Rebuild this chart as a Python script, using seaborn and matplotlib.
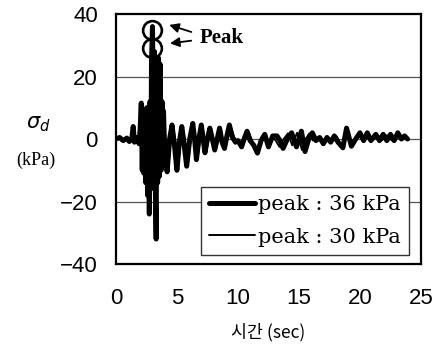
import numpy as np
import pandas as pd
import matplotlib
matplotlib.use("Agg")
import matplotlib.pyplot as plt
import seaborn as sns

# ---------------- data ----------------
time_a = [0.0, 0.3, 0.6, 0.9, 1.1, 1.3, 1.42, 1.52, 1.7, 1.9, 2.0, 2.08, 2.16, 2.24,
          2.3, 2.38, 2.45, 2.52, 2.6, 2.67, 2.74, 2.8, 2.86, 2.92, 3.0, 3.06, 3.1,
          3.16, 3.22, 3.3, 3.36, 3.42, 3.48, 3.55, 3.62, 3.7, 3.78, 3.84, 3.9, 4.0,
          4.2, 4.4, 4.6, 4.8, 5.0, 5.2, 5.4, 5.6, 5.8, 6.05, 6.3, 6.45, 6.6, 6.8,
          7.0, 7.15, 7.3, 7.5, 7.7, 7.9, 8.1, 8.3, 8.5, 8.7, 8.9, 9.1, 9.3, 9.55,
          9.8, 10.0, 10.3, 10.55, 10.75, 11.0, 11.3, 11.6, 11.9, 12.2, 12.5, 12.85,
          13.2, 13.45, 13.7, 14.05, 14.4, 14.8, 15.2, 15.5, 15.8, 16.1, 16.4, 16.7,
          17.0, 17.3, 17.6, 17.9, 18.2, 18.6, 18.9, 19.3, 19.65, 20.0, 20.3, 20.6,
          20.9, 21.3, 21.6, 21.9, 22.2, 22.5, 22.8, 23.1, 23.4, 23.65, 23.9]
sigma_a = [0.0, 0.5, -0.5, 0.3, -0.8, 0.0, 4.0, -1.0, 0.5, -1.5, 4.0, 11.5, -10.0, 9.0,
           -11.0, 8.0, -14.0, 10.0, -18.0, 9.0, -24.0, 12.0, -16.0, 25.0, 36.0, 10.0, -13.0,
           28.0, -12.0, -32.0, 25.0, -14.0, 26.0, -12.0, 24.0, -10.0, 12.0, -8.0, 9.0, -4.0,
           -10.5, 0.0, 4.5, -2.0, -10.0, -1.0, 4.0, -2.0, -8.7, 0.0, 5.0, 0.0, -6.6, 0.0,
           4.5, 0.0, -4.4, 0.0, 3.5, 0.0, -3.5, 0.0, 3.5, -1.0, -3.0, 1.0, 4.5, 0.5,
           -1.0, -0.5, -2.5, 0.5, 2.5, -0.5, -2.0, -4.5, -0.5, 1.5, -2.5, 1.0,
           1.0, -0.5, -3.0, 0.0, 2.0, -2.5, 2.5, -4.0, 0.0, 2.0, -0.5, 0.5,
           -1.5, 0.5, -1.0, 1.0, -1.0, -2.8, 3.5, -2.3, 0.0, 2.0, -0.5, 2.0,
           -0.5, 1.5, -0.5, 1.5, -0.5, 1.5, -0.5, 2.0, 0.0, 1.0, 0.0]

time_b = [0.0, 0.35, 0.65, 0.95, 1.15, 1.35, 1.45, 1.55, 1.75, 1.95, 2.04, 2.12, 2.2,
          2.27, 2.34, 2.41, 2.48, 2.56, 2.63, 2.7, 2.77, 2.83, 2.89, 2.96, 3.02,
          3.08, 3.13, 3.19, 3.26, 3.33, 3.39, 3.45, 3.52, 3.59, 3.66, 3.74, 3.81,
          3.88, 3.96, 4.1, 4.3, 4.5, 4.7, 4.9, 5.1, 5.3, 5.5, 5.7, 5.9, 6.15, 6.35,
          6.55, 6.7, 6.9, 7.1, 7.25, 7.4, 7.6, 7.8, 8.0, 8.2, 8.4, 8.6, 8.8, 9.0,
          9.2, 9.4, 9.7, 10.0, 10.3, 10.6, 10.9, 11.2, 11.5, 11.8, 12.1, 12.4,
          12.8, 13.1, 13.4, 13.75, 14.1, 14.45, 14.85, 15.25, 15.55, 15.85, 16.15,
          16.5, 16.9, 17.3, 17.7, 18.1, 18.5, 18.85, 19.25, 19.6, 20.0, 20.35,
          20.65, 21.0, 21.4, 21.8, 22.2, 22.6, 23.0, 23.4, 23.8]
sigma_b = [0.0, 0.4, -0.6, 0.4, -0.5, 0.5, 3.0, -0.8, 0.6, -1.0, 3.0, 9.5, -8.0,
           7.5, -10.0, 7.0, -12.0, 8.0, -15.0, 7.0, -21.0, 10.0, -14.0, 22.0, 30.0,
           8.0, -11.0, 24.0, -10.0, -28.0, 22.0, -12.0, 22.0, -10.0, 20.0, -8.0, 10.0,
           -7.0, 7.0, -3.0, -9.5, 0.0, 4.0, -1.5, -9.0, -0.5, 3.5, -1.5, -8.0, 0.0, 4.5,
           0.0, -6.0, 0.0, 4.0, 0.0, -4.0, 0.0, 3.0, 0.0, -3.0, 0.0, 3.0, -1.0, -2.5,
           1.0, 4.0, 0.5, -1.0, -2.0, 0.5, 2.0, -1.0, -4.0, -0.5, 1.5, -2.0,
           1.0, -0.5, -2.5, 0.0, 1.8, -2.0, 2.0, -3.5, 0.0, 1.8, -0.5,
           0.5, -1.0, 0.5, -0.8, 0.8, -2.5, 3.0, -2.0, 0.0, 1.8, -0.5,
           1.8, -0.4, 1.2, -0.4, 1.2, -0.4, 1.5, 0.0, 0.5]

series_labels = ["peak : 36 kPa", "peak : 30 kPa"]
y_ticks = [-40, -20, 0, 20, 40]
y_tick_labels = ["\u221240", "\u221220", "0", "20", "40"]
x_ticks = [0, 5, 10, 15, 20, 25]

# ---------------- figure ----------------
sns.set_style("white")
plt.rcParams['font.family'] = ['Liberation Sans', 'DejaVu Sans']
plt.rcParams['text.color'] = 'black'
plt.rcParams['xtick.color'] = 'black'
plt.rcParams['ytick.color'] = 'black'

fig = plt.figure(figsize=(4.34, 3.52), dpi=100)
ax = fig.add_axes([0.267, 0.25, 0.703, 0.71])

df_a = pd.DataFrame({"t": time_a, "s": sigma_a})
df_b = pd.DataFrame({"t": time_b, "s": sigma_b})

for yv in [-20, 0, 20]:
    ax.axhline(yv, color="#555555", lw=0.9, zorder=0)

sns.lineplot(data=df_b, x="t", y="s", ax=ax, color="black", lw=1.4,
             sort=False, estimator=None, label=series_labels[1], zorder=3)
sns.lineplot(data=df_a, x="t", y="s", ax=ax, color="black", lw=3.6,
             sort=False, estimator=None, label=series_labels[0], zorder=2)

ax.set_xlim(0, 25)
ax.set_ylim(-40, 40)
ax.set_xticks(x_ticks)
ax.set_yticks(y_ticks)
ax.set_yticklabels(y_tick_labels)
ax.tick_params(axis="both", length=0, labelsize=16, colors="black")
ax.tick_params(axis="x", pad=17)
ax.tick_params(axis="y", pad=13)
ax.set_xlabel("")
ax.set_ylabel("")
for sp in ax.spines.values():
    sp.set_visible(True)
    sp.set_color("black")
    sp.set_linewidth(1.6)

# peak circles
ia = int(np.argmax(sigma_a))
ib = int(np.argmax(sigma_b))
ax.plot([time_a[ia] - 0.05], [sigma_a[ia] - 1.2], marker="o", ms=13.5, mfc="none",
        mec="black", mew=1.9, zorder=5)
ax.plot([time_b[ib] - 0.07], [sigma_b[ib] - 0.8], marker="o", ms=13.5, mfc="none",
        mec="black", mew=1.9, zorder=5)

# Peak text and arrows
ax.text(6.9, 32.3, "Peak", fontsize=15, fontweight="bold",
        family=["Liberation Serif"], va="center", ha="left")
ax.annotate("", xy=(4.15, 36.8), xytext=(6.4, 34.0),
            arrowprops=dict(arrowstyle="-|>", color="black", lw=1.3, mutation_scale=14))
ax.annotate("", xy=(4.2, 30.5), xytext=(6.4, 31.6),
            arrowprops=dict(arrowstyle="-|>", color="black", lw=1.3, mutation_scale=14))

# legend (thick first)
h, l = ax.get_legend_handles_labels()
order = [l.index(series_labels[0]), l.index(series_labels[1])]
leg = ax.legend([h[i] for i in order], [l[i] for i in order],
                loc="lower right", bbox_to_anchor=(0.961, 0.036),
                borderaxespad=0, frameon=True, fancybox=False, framealpha=1,
                prop={"family": "DejaVu Serif", "size": 15},
                handlelength=2.2, handletextpad=0.15, labelspacing=0.65,
                borderpad=0.4)
leg.get_frame().set_edgecolor("#333333")
leg.get_frame().set_linewidth(1.0)
leg.set_zorder(10)

# axis labels
fig.text(0.088, 0.648, r"$\sigma_d$", fontsize=15, ha="center", va="center",
         family=["DejaVu Serif"])
fig.text(0.083, 0.545, "(kPa)", fontsize=13, ha="center", va="center",
         family=["Liberation Serif"])
fig.text(0.617, 0.055, "시간 (sec)", fontsize=12.5, ha="center", va="center",
         family=["Noto Sans CJK KR", "DejaVu Sans"])

fig.savefig("out.png", dpi=100)
